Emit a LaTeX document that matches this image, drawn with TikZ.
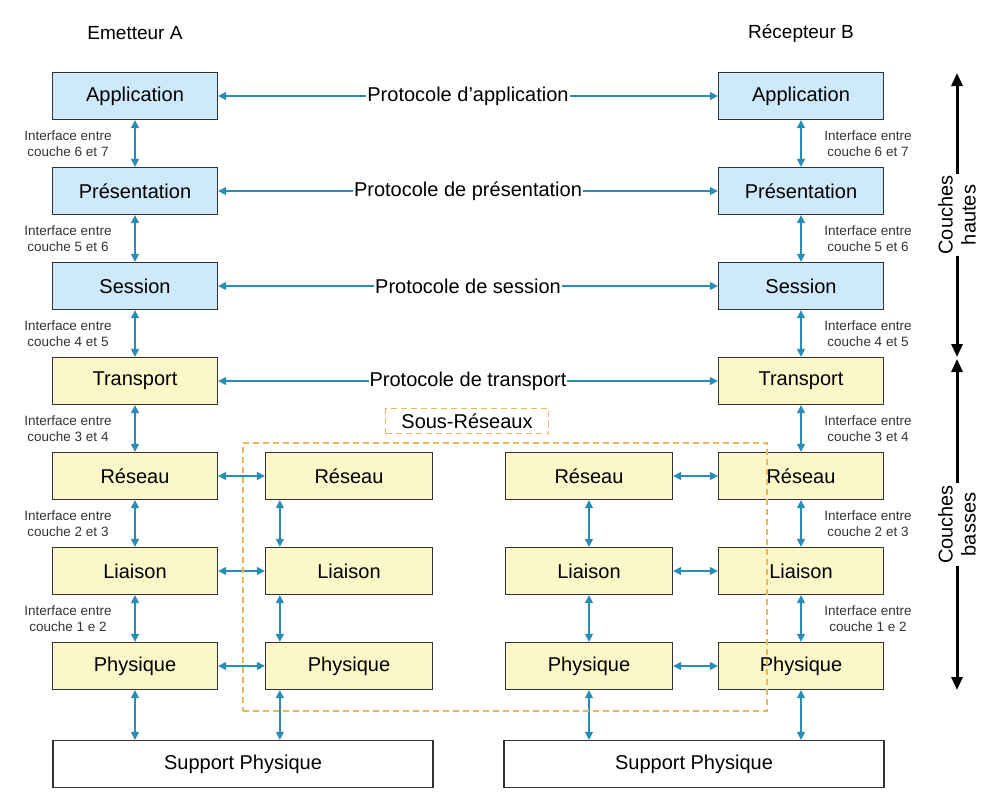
\documentclass[tikz,border=0pt]{standalone}
\usepackage{fontspec}
\setmainfont{Liberation Sans}
\usetikzlibrary{arrows.meta}
\definecolor{bleu}{RGB}{205,233,250}
\definecolor{jaune}{RGB}{251,247,201}
\definecolor{lienbleu}{RGB}{40,140,180}
\definecolor{pointille}{RGB}{232,184,86}
\tikzset{
  couche/.style={draw=black!80, line width=1.3pt, minimum width=165pt, minimum height=47pt, inner sep=0pt, font=\fontsize{20}{24}\selectfont},
  haute/.style={couche, fill=bleu},
  basse/.style={couche, fill=jaune},
  support/.style={couche, fill=white, minimum width=380pt},
  lien/.style={draw=lienbleu, line width=1.3pt, {Triangle[length=8pt,width=8pt]}-{Triangle[length=8pt,width=8pt]}},
  proto/.style={fill=white, inner sep=1pt, font=\fontsize{20}{24}\selectfont},
  interface/.style={align=center, inner sep=0pt, font=\fontsize{13.5}{16.5}\selectfont, text=black!80},
  titre/.style={font=\fontsize{19}{22}\selectfont},
  grande/.style={line width=3pt, {Triangle[length=13pt,width=11pt]}-{Triangle[length=13pt,width=11pt]}},
  groupe/.style={fill=white, inner sep=2pt, rotate=90, align=center, font=\fontsize{20}{23}\selectfont},
  cadre/.style={draw=pointille, line width=1.5pt, dash pattern=on 6pt off 4pt}
}
\begin{document}
\begin{tikzpicture}[x=1pt, y=-1pt]
  \useasboundingbox (0,0) rectangle (990,803);
  % titres
  \node[titre] (emA) at (135,33) {Emetteur A};
  \node[titre] (recB) at (801,33) {Récepteur B};
  % emetteur A
  \node[haute] (gApp) at (135,96) {Application};
  \node[haute] (gPres) at (135,191) {Présentation};
  \node[haute] (gSess) at (135,286) {Session};
  \node[basse] (gTrans) at (135,381) {Transport};
  \node[basse] (gRes) at (135,476) {Réseau};
  \node[basse] (gLia) at (135,571) {Liaison};
  \node[basse] (gPhy) at (135,666) {Physique};
  % recepteur B
  \node[haute] (dApp) at (801,96) {Application};
  \node[haute] (dPres) at (801,191) {Présentation};
  \node[haute] (dSess) at (801,286) {Session};
  \node[basse] (dTrans) at (801,381) {Transport};
  \node[basse] (dRes) at (801,476) {Réseau};
  \node[basse] (dLia) at (801,571) {Liaison};
  \node[basse] (dPhy) at (801,666) {Physique};
  % sous-reseaux
  \node[basse, minimum width=167pt] (sgRes) at (349,476) {Réseau};
  \node[basse, minimum width=167pt] (sgLia) at (349,571) {Liaison};
  \node[basse, minimum width=167pt] (sgPhy) at (349,666) {Physique};
  \node[basse, minimum width=167pt] (sdRes) at (589,476) {Réseau};
  \node[basse, minimum width=167pt] (sdLia) at (589,571) {Liaison};
  \node[basse, minimum width=167pt] (sdPhy) at (589,666) {Physique};
  % supports
  \node[support] (supG) at (243,764) {Support Physique};
  \node[support] (supD) at (694,764) {Support Physique};
  % protocoles
  \draw[lien] (gApp) -- node[proto] {Protocole d'application} (dApp);
  \draw[lien] (gPres) -- node[proto] {Protocole de présentation} (dPres);
  \draw[lien] (gSess) -- node[proto] {Protocole de session} (dSess);
  \draw[lien] (gTrans) -- node[proto] {Protocole de transport} (dTrans);
  % interfaces
  \draw[lien] (gApp) -- (gPres);
  \draw[lien] (gPres) -- (gSess);
  \draw[lien] (gSess) -- (gTrans);
  \draw[lien] (gTrans) -- (gRes);
  \draw[lien] (gRes) -- (gLia);
  \draw[lien] (gLia) -- (gPhy);
  \draw[lien] (dApp) -- (dPres);
  \draw[lien] (dPres) -- (dSess);
  \draw[lien] (dSess) -- (dTrans);
  \draw[lien] (dTrans) -- (dRes);
  \draw[lien] (dRes) -- (dLia);
  \draw[lien] (dLia) -- (dPhy);
  \draw[lien] ([xshift=15pt]sgRes.south west) -- ([xshift=15pt]sgLia.north west);
  \draw[lien] ([xshift=15pt]sgLia.south west) -- ([xshift=15pt]sgPhy.north west);
  \draw[lien] (sdRes) -- (sdLia);
  \draw[lien] (sdLia) -- (sdPhy);
  % liens horizontaux
  \draw[lien] (gRes) -- (sgRes);
  \draw[lien] (gLia) -- (sgLia);
  \draw[lien] (gPhy) -- (sgPhy);
  \draw[lien] (sdRes) -- (dRes);
  \draw[lien] (sdLia) -- (dLia);
  \draw[lien] (sdPhy) -- (dPhy);
  % vers le support
  \draw[lien] (gPhy) -- (gPhy |- supG.north);
  \draw[lien] ([xshift=15pt]sgPhy.south west) -- ([xshift=15pt]sgPhy.south west |- supG.north);
  \draw[lien] (sdPhy) -- (sdPhy |- supD.north);
  \draw[lien] (dPhy) -- (dPhy |- supD.north);
  % textes d'interface
  \node[interface] (ig67) at (68,143.5) {Interface entre\\couche 6 et 7};
  \node[interface] (ig56) at (68,238.5) {Interface entre\\couche 5 et 6};
  \node[interface] (ig45) at (68,333.5) {Interface entre\\couche 4 et 5};
  \node[interface] (ig34) at (68,428.5) {Interface entre\\couche 3 et 4};
  \node[interface] (ig23) at (68,523.5) {Interface entre\\couche 2 et 3};
  \node[interface] (ig12) at (68,618.5) {Interface entre\\couche 1 e 2};
  \node[interface] (id67) at (868,143.5) {Interface entre\\couche 6 et 7};
  \node[interface] (id56) at (868,238.5) {Interface entre\\couche 5 et 6};
  \node[interface] (id45) at (868,333.5) {Interface entre\\couche 4 et 5};
  \node[interface] (id34) at (868,428.5) {Interface entre\\couche 3 et 4};
  \node[interface] (id23) at (868,523.5) {Interface entre\\couche 2 et 3};
  \node[interface] (id12) at (868,618.5) {Interface entre\\couche 1 e 2};
  % cadre des sous-reseaux
  \node[cadre, minimum width=524pt, minimum height=268pt] (cadreSR) at (505,577) {};
  \node[cadre, minimum width=163pt, minimum height=25pt, inner sep=0pt, font=\fontsize{20}{24}\selectfont] (sousRes) at (467,421) {Sous-Réseaux};
  % couches hautes et basses
  \coordinate (hTop) at (957,73);
  \coordinate (hBot) at (957,357);
  \coordinate (bTop) at (957,359);
  \coordinate (bBot) at (957,690);
  \draw[grande] (hTop) -- node[groupe] {Couches\\hautes} (hBot);
  \draw[grande] (bTop) -- node[groupe] {Couches\\basses} (bBot);
\end{tikzpicture}
\end{document}
